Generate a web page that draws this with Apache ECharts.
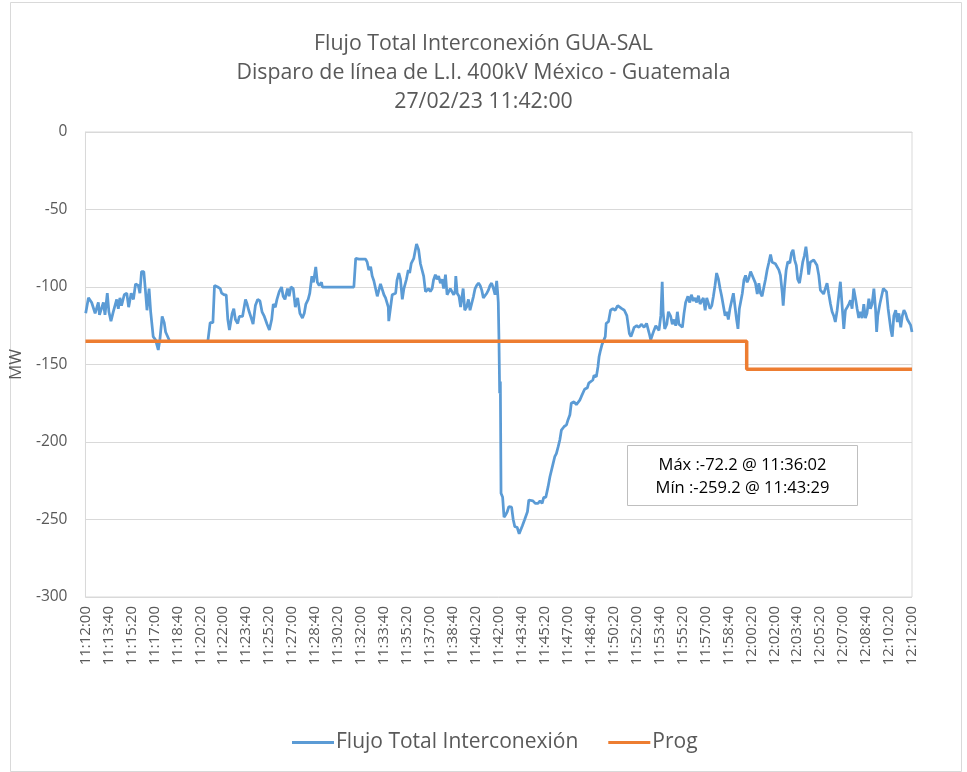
<!DOCTYPE html>
<html><head><meta charset="utf-8">
<script src="https://cdn.jsdelivr.net/npm/echarts@6/dist/echarts.min.js"></script>
<style>html,body{margin:0;padding:0;background:#fff}#c{width:967px;height:772px}</style>
</head><body><div id="c"></div>
<script>
// Seconds after 11:12:00
const flujoSec = [1,13,27,42,56,61,78,85,95,102,111,121,136,143,150,157,169,180,188,199,209,218,230,237,244,254,261,268,277,284,295,305,317,324,334,343,349,356,367,400,470,533,
543,555,562,568,576,587,593,604,613,620,627,639,646,653,663,670,677,684,697,704,711,722,730,740,750,760,769,779,791,801,811,818,827,834,844,854,861,869,880,887,895,905,914,924,934,945,953,960,970,977,986,993,1003,1010,1018,1028,1032,1169,
1177,1191,1206,1220,1227,1234,1242,1249,1256,1263,1271,1278,1285,1292,1300,1307,1315,1319,1321,1329,1336,1343,1351,1357,1365,1372,1380,1387,1398,1406,1412,1419,1430,1437,1442,1451,1459,1466,1473,1481,1488,1495,1502,1510,1516,1524,1531,1538,1546,1553,1560,1568,1575,1582,1589,1596,1604,1610,1613,1619,1627,1634,1645,1652,1660,1668,1675,1683,1690,1697,1704,1712,1719,1726,1733,1740,1748,1755,1762,1769,1777,1784,1791,1795,1798,
1801,1804,1807,1810,1817,1823,1830,1837,1844,1856,1863,1870,1880,1889,1896,1903,1913,1925,1931,1939,1949,1959,1971,1980,1989,1996,2005,2015,2023,2030,2037,2044,2051,2059,2066,2073,2085,2095,2102,2110,2116,2128,2138,2145,2153,2160,2167,2174,2186,2192,2200,2210,2215,2225,2232,2237,2243,2250,2258,2264,2268,2278,2287,2297,2307,2318,2325,2336,2347,2358,2369,2376,2383,2390,2401,2411,2421,2433,2444,2455,2462,2469,2476,2484,2491,2498,2506,2512,2516,2523,2532,2539,2549,2556,2564,2571,2578,2585,2593,2600,2607,2614,2624,2632,2639,2648,2655,2662,2670,2677,2684,2691,2699,2706,2713,2720,2728,2735,2742,2749,2757,2764,2771,2778,2786,2793,2800,2807,2815,2822,2829,2836,2842,2848,2853,2861,
2868,2875,2882,2890,2897,2904,2911,2918,2926,2933,2940,2947,2955,2962,2969,2976,2984,2991,2998,3005,3013,3020,3027,3035,3039,3045,3052,3059,3068,3075,3082,3089,3096,3102,3110,3117,3124,3131,3138,3143,3150,3157,3165,3172,3179,3186,3194,3201,3208,3215,3222,3230,3237,3245,3252,3259,3266,3274,3281,3288,3296,3303,3310,3318,3325,3332,3339,3346,3354,3361,3368,3375,3383,3390,3397,3404,3412,3419,3426,3434,3441,3446,3451,3460,3467,3475,3482,3489,3496,3503,3508,3514,3521,3529,3536,3543,3551,3558,3565,3572,3580,3587,3594,3600];
const flujoMW = [-117,-107,-110,-117,-110,-118,-110,-118,-104,-116,-122,-116,-108,-114,-107,-112,-105,-104,-113,-104,-108,-98,-99,-104,-90,-90,-102,-115,-101,-116,-132,-134,-140.6,-134,-119,-123,-129,-128,-135,-135,-135,-135,
-123,-123,-99,-98,-100,-101,-104,-105,-105,-121,-127.7,-117,-114,-121,-123.5,-119,-118,-119,-108,-111,-115,-120,-124,-112,-108,-109,-116,-119,-124,-127.7,-121,-111,-113,-108,-103,-100,-106,-108,-101,-106,-100,-101,-113,-107,-117,-120,-117,-111,-108,-104,-93,-97,-87,-97,-99,-97,-100,-100,
-81.5,-82,-82,-82,-84,-89,-87,-93,-96,-95,-106,-106,-98,-99,-105,-107,-107,-113,-122,-113,-105,-105,-104,-95.5,-91,-95,-108,-101,-95,-89,-91,-84.7,-81.5,-76,-72.2,-76,-85,-85,-93,-103,-104,-101,-103,-101,-95.5,-92,-95,-93,-97.5,-95,-101,-92,-105,-106,-101,-102,-105,-103,-93,-104,-106,-113,-101,-115,-113,-108,-115,-116,-106,-101,-99,-97.5,-99,-102,-107,-108,-104,-102,-99,-97.5,-101,-105,-96,-103,-110,
-134,-168.6,-161,-233,-235.7,-248.5,-247,-245,-241.7,-242,-250,-254.6,-255,-259.2,-258,-254,-250,-245,-237.4,-236.6,-238,-239.6,-239.6,-238,-239.6,-235.7,-235.7,-228.8,-222.4,-221.5,-213.8,-209.5,-207.5,-203,-198.7,-192.3,-190,-189,-185.6,-182.4,-175,-174,-176,-177,-173,-170.6,-170.6,-166,-165,-162,-161,-160,-157,-158,-151.6,-145,-141,-137,-136,-132,-123.4,-122.4,-115,-114,-115,-112,-111,-114,-115,-118.5,-130,-132,-129,-126,-125,-126,-124,-126,-123.5,-129.7,-134,-131,-128,-125,-126,-128,-118.5,-96.6,-116,-127,-124,-116,-119,-124,-121,-125,-116,-124,-125,-126,-117,-110,-106,-110,-105,-109,-107,-110,-105.6,-111,-112,-107,-115,-107,-106,-114,-112,-106,-99,-91,-95,-101,-106,-107,-118.5,-116,-121,-114,-113,-104,-104,-121,-127,-114,-115,-104,
-95.5,-92.5,-97,-94,-90,-91,-95,-97.5,-104.5,-97.5,-104,-106,-100,-95,-89,-84.5,-79,-84,-83.7,-85,-84,-89,-92.5,-104,-112,-100,-89,-83.7,-84.5,-78,-76,-82.6,-86,-95,-97.5,-91,-84,-80,-74,-80,-92,-84,-83.7,-82.6,-83.7,-86,-92.5,-102,-102,-104.5,-105.5,-97.5,-104,-111,-116,-118.5,-122.6,-115,-114,-96.6,-113,-127,-115,-113,-111,-108.6,-114,-101,-107.5,-114,-120,-116,-120,-111,-120,-117,-107.5,-114,-111,-101,-114,-129,-118.5,-111,-111,-101,-101,-103,-114,-115,-127.7,-132,-118.5,-115,-122.6,-117,-126,-118.5,-115,-117,-121,-121,-124.6,-129];
const progSec = [0,2880,2880,3600];
const progMW = [-135,-135,-153,-153];
const xTickLabels = ['11:12:00','11:13:40','11:15:20','11:17:00','11:18:40','11:20:20','11:22:00','11:23:40','11:25:20','11:27:00','11:28:40','11:30:20','11:32:00','11:33:40','11:35:20','11:37:00','11:38:40','11:40:20','11:42:00','11:43:40','11:45:20','11:47:00','11:48:40','11:50:20','11:52:00','11:53:40','11:55:20','11:57:00','11:58:40','12:00:20','12:02:00','12:03:40','12:05:20','12:07:00','12:08:40','12:10:20','12:12:00'];
const titleText = 'Flujo Total Interconexión GUA-SAL\nDisparo de línea de L.I. 400kV México - Guatemala\n27/02/23 11:42:00';
const seriesNames = ['Flujo Total Interconexión','Prog'];
const noteLines = ['Máx :-72.2 @ 11:36:02','Mín :-259.2 @ 11:43:29'];

const FONT = 'Open Sans';
const TXT = '#595959';
const chart = echarts.init(document.getElementById('c'), null, {renderer:'canvas'});
chart.setOption({
  animation:false,
  backgroundColor:'#fff',
  title:{text:titleText,left:'center',top:24,textStyle:{fontFamily:FONT,fontSize:21.3,fontWeight:'normal',color:TXT,lineHeight:29}},
  grid:{left:82,right:55,top:132,bottom:175,show:true,borderColor:'#D9D9D9',borderWidth:1},
  legend:{bottom:14,left:287,itemWidth:42,itemHeight:3,itemGap:30,icon:'rect',
    textStyle:{fontFamily:FONT,fontSize:21,color:TXT,padding:[0,0,0,-3]},
    data:[{name:seriesNames[0]},{name:seriesNames[1]}]},
  xAxis:{type:'value',min:0,max:3600,interval:100,
    axisLine:{show:true,lineStyle:{color:'#D9D9D9'}},axisTick:{show:false},splitLine:{show:false},
    axisLabel:{rotate:90,margin:9,fontFamily:FONT,fontSize:15,color:TXT,formatter:v=>xTickLabels[Math.round(v/100)]}},
  yAxis:{type:'value',min:-300,max:0,interval:50,name:'MW',nameLocation:'middle',nameGap:55,nameRotate:90,
    nameTextStyle:{fontFamily:FONT,fontSize:17,color:TXT},
    axisLine:{show:true,lineStyle:{color:'#D9D9D9'}},axisTick:{show:false},
    splitLine:{lineStyle:{color:'#D9D9D9'}},
    axisLabel:{margin:18,fontFamily:FONT,fontSize:15.5,color:TXT}},
  series:[
    {name:seriesNames[0],type:'line',showSymbol:false,symbol:'none',color:'#5B9BD5',
     lineStyle:{width:2.75,color:'#5B9BD5'},data:flujoSec.map((t,i)=>[t,flujoMW[i]])},
    {name:seriesNames[1],type:'line',showSymbol:false,symbol:'none',color:'#ED7D31',
     lineStyle:{width:3.5,color:'#ED7D31'},data:progSec.map((t,i)=>[t,progMW[i]])}
  ],
  graphic:[
    {type:'rect',left:8,top:0,shape:{width:951,height:769},style:{fill:'none',stroke:'#D9D9D9',lineWidth:1},silent:true},
    {type:'group',left:627,top:445,children:[
      {type:'rect',shape:{width:230,height:60},style:{fill:'#fff',stroke:'#BFBFBF',lineWidth:1}},
      {type:'text',x:115,y:20,style:{text:noteLines[0],fontFamily:FONT,fontSize:16.5,fill:'#000',align:'center',verticalAlign:'middle'}},
      {type:'text',x:115,y:43,style:{text:noteLines[1],fontFamily:FONT,fontSize:16.5,fill:'#000',align:'center',verticalAlign:'middle'}}
    ]}
  ]
});
</script></body></html>
